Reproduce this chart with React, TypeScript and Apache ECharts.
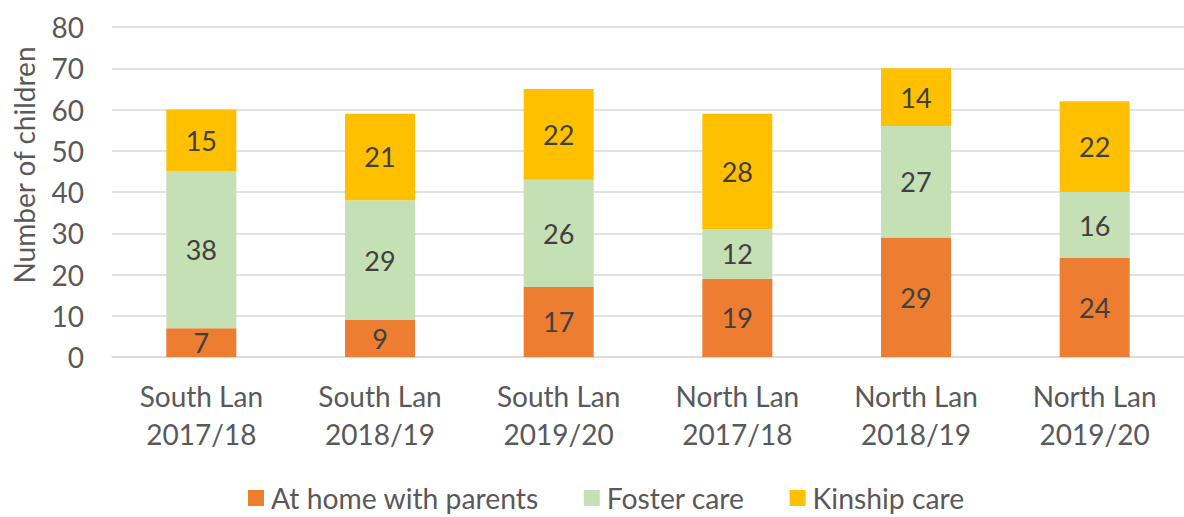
import React, { useEffect, useRef } from "react";
import * as echarts from "echarts";

const categories = [
  "South Lan\n2017/18",
  "South Lan\n2018/19",
  "South Lan\n2019/20",
  "North Lan\n2017/18",
  "North Lan\n2018/19",
  "North Lan\n2019/20",
];
const atHome = [7, 9, 17, 19, 29, 24];
const foster = [38, 29, 26, 12, 27, 16];
const kinship = [15, 21, 22, 28, 14, 22];
const seriesNames = ["At home with parents", "Foster care", "Kinship care"];
const colors = ["#ED7D31", "#C5E0B4", "#FFC000"];

const FONT = "Lato, 'Open Sans', sans-serif";

export default function App() {
  const ref = useRef<HTMLDivElement>(null);
  useEffect(() => {
    if (!ref.current) return;
    const chart = echarts.init(ref.current, undefined, { renderer: "svg" });
    const label = {
      show: true,
      position: "inside",
      color: "#404040",
      fontSize: 27,
      fontFamily: FONT,
    };
    const mk = (name: string, data: number[], color: string) => ({
      name,
      type: "bar",
      stack: "total",
      data,
      barWidth: 70,
      itemStyle: { color },
      label,
    });
    chart.setOption({
      animation: false,
      textStyle: { fontFamily: FONT },
      grid: { left: 112, top: 27, width: 1084, height: 330, containLabel: false },
      legend: {
        top: 479,
        left: 243,
        itemWidth: 16,
        itemHeight: 16,
        itemGap: 45,
        icon: "rect",
        textStyle: { fontSize: 28.3, color: "#595959", fontFamily: FONT, padding: [0, 0, 0, 2] },
        data: seriesNames,
      },
      xAxis: {
        type: "category",
        data: categories,
        axisLine: { show: true, lineStyle: { color: "#D9D9D9", width: 1.5 } },
        axisTick: { show: false },
        axisLabel: {
          color: "#595959",
          fontSize: 28,
          fontFamily: FONT,
          lineHeight: 38,
          margin: 20,
          interval: 0,
        },
      },
      yAxis: {
        type: "value",
        min: 0,
        max: 80,
        interval: 10,
        name: "Number of children",
        nameLocation: "middle",
        nameGap: 74,
        nameRotate: 90,
        nameTextStyle: {
          color: "#595959",
          fontSize: 28,
          fontFamily: FONT,
          padding: [0, 0, 0, 54],
        },
        axisLine: { show: false },
        axisTick: { show: false },
        axisLabel: { color: "#595959", fontSize: 28, fontFamily: FONT, margin: 28 },
        splitLine: { lineStyle: { color: "#D9D9D9", width: 1.5 } },
      },
      series: [
        mk(seriesNames[0], atHome, colors[0]),
        mk(seriesNames[1], foster, colors[1]),
        mk(seriesNames[2], kinship, colors[2]),
      ],
    });
    return () => chart.dispose();
  }, []);
  return (
    <div
      ref={ref}
      style={{ position: "fixed", left: 0, top: 0, width: 1184, height: 517, background: "#fff" }}
    />
  );
}
